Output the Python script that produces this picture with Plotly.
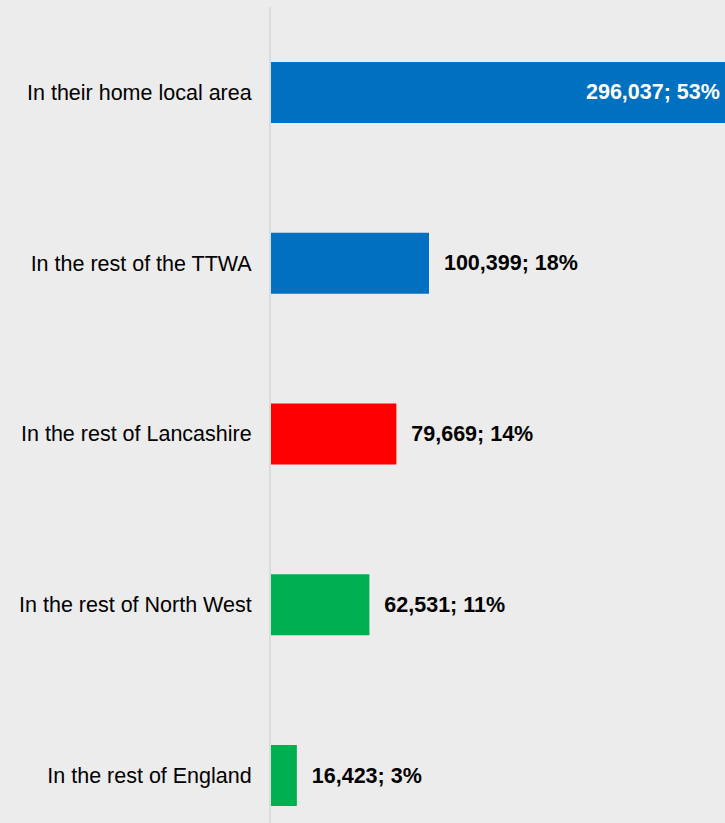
import plotly.graph_objects as go

categories = ["In their home local area", "In the rest of the TTWA", "In the rest of Lancashire",
              "In the rest of North West", "In the rest of England"]
counts = [296037, 100399, 79669, 62531, 16423]
shares = [53, 18, 14, 11, 3]
colors = ["#0070C0", "#0070C0", "#FF0000", "#00B050", "#00B050"]

labels = [f"{c:,}; {p}%" for c, p in zip(counts, shares)]
# first bar runs off the right edge, its label sits inside via an annotation
texts = [""] + ["\u00a0\u00a0" + t for t in labels[1:]]

fig = go.Figure()
fig.add_trace(go.Bar(
    y=categories, x=counts, orientation="h",
    marker=dict(color=colors, line=dict(width=0)),
    text=texts,
    textposition="outside",
    textfont=dict(family="Liberation Sans, Arial", size=21.5, color="black", weight="bold"),
    cliponaxis=False,
    width=0.357,
))
fig.add_annotation(x=1, xref="paper", xanchor="right", xshift=-3, y=categories[0], yref="y",
                   text=f"<b>{labels[0]}</b>", showarrow=False,
                   font=dict(family="Liberation Sans, Arial", size=21.5, color="white"))

fig.update_layout(
    width=725, height=823,
    margin=dict(l=271, r=0, t=7, b=0),
    paper_bgcolor="#ececec", plot_bgcolor="#ececec",
    showlegend=False,
    font=dict(family="Liberation Sans, Arial", size=21.5, color="black"),
)
fig.update_xaxes(range=[0, 288500], showgrid=False, zeroline=False, showticklabels=False, showline=False)
fig.update_yaxes(range=[4.278, -0.5], showgrid=False, zeroline=False, showline=True,
                 linecolor="#dcdcdc", linewidth=2, ticks="", ticklabelstandoff=13,
                 tickfont=dict(size=21.5))

fig.write_html("out.html", config={"displayModeBar": False},
               post_script="document.body.style.margin='0';document.body.style.background='#ececec';")
